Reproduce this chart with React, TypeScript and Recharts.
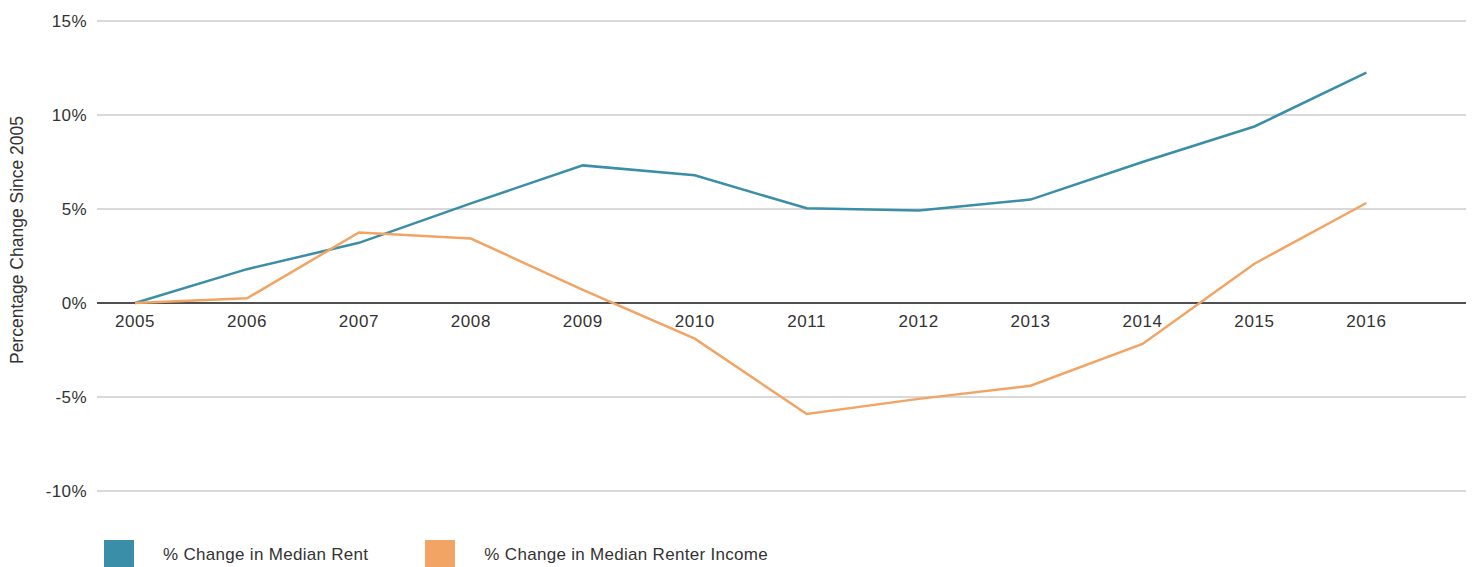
import React from "react";
import {
  LineChart,
  Line,
  XAxis,
  YAxis,
  CartesianGrid,
  ReferenceLine,
  Label,
} from "recharts";

const years = [2005, 2006, 2007, 2008, 2009, 2010, 2011, 2012, 2013, 2014, 2015, 2016];
const rentChange = [0, 1.8, 3.2, 5.3, 7.32, 6.79, 5.04, 4.92, 5.5, 7.5, 9.39, 12.25];
const incomeChange = [0, 0.25, 3.75, 3.43, 0.7, -1.9, -5.9, -5.1, -4.4, -2.18, 2.09, 5.32];
const yTicks = [-10, -5, 0, 5, 10, 15];
const seriesNames = ["% Change in Median Rent", "% Change in Median Renter Income"];
const seriesColors = ["#3a8ea7", "#f2a464"];
const yAxisTitle = "Percentage Change Since 2005";

const data = years.map((year, i) => ({
  year,
  rent: rentChange[i],
  income: incomeChange[i],
}));

const FONT = "'Liberation Sans', Arial, Helvetica, sans-serif";
const TEXT = "#333333";

const YTitle = (props: any) => {
  const vb = props.viewBox || { x: 0, y: 0, width: 0, height: 0 };
  const cx = vb.x + 17;
  const cy = vb.y + vb.height / 2 - 16;
  return (
    <text
      x={cx}
      y={cy}
      transform={`rotate(-90, ${cx}, ${cy})`}
      textAnchor="middle"
      dominantBaseline="central"
      fill={TEXT}
      fontSize={17.5}
      fontFamily={FONT}
    >
      {yAxisTitle}
    </text>
  );
};

const XTick = (props: any) => {
  const { x, y, payload } = props;
  return (
    <text
      x={x}
      y={y}
      dy={-164}
      textAnchor="middle"
      fill={TEXT}
      fontSize={17}
      fontFamily={FONT}
      letterSpacing={0.6}
    >
      {payload.value}
    </text>
  );
};

export default function App() {
  return (
    <div style={{ position: "absolute", left: 0, top: 0, width: 1473, height: 567, background: "#fff", fontFamily: FONT, overflow: "hidden" }}>
      <LineChart
        width={1473}
        height={567}
        data={data}
        margin={{ top: 21, right: 7, bottom: 46, left: 0 }}
      >
        <CartesianGrid vertical={false} stroke="#cccccc" strokeWidth={1.5} />
        <XAxis
          dataKey="year"
          type="number"
          domain={[2004.66, 2016.89]}
          ticks={years}
          allowDataOverflow
          axisLine={false}
          tickLine={false}
          tickSize={0}
          tickMargin={0}
          height={30}
          interval={0}
          tick={<XTick />}
        />
        <YAxis
          domain={[-10, 15]}
          ticks={yTicks}
          width={97}
          axisLine={false}
          tickLine={false}
          tickSize={0}
          tickMargin={10}
          tickFormatter={(v: number) => `${v}%`}
          tick={{ fill: TEXT, fontSize: 17, fontFamily: FONT, letterSpacing: 0.4 }}
        >
          <Label content={<YTitle />} />
        </YAxis>
        <ReferenceLine y={0} stroke="#222222" strokeWidth={1.5} />
        <Line
          type="linear"
          dataKey="rent"
          stroke={seriesColors[0]}
          strokeWidth={2.5}
          dot={false}
          isAnimationActive={false}
        />
        <Line
          type="linear"
          dataKey="income"
          stroke={seriesColors[1]}
          strokeWidth={2.5}
          dot={false}
          isAnimationActive={false}
        />
      </LineChart>
      <div style={{ position: "absolute", left: 104, top: 540, display: "flex", alignItems: "flex-start" }}>
        {seriesNames.map((name, i) => (
          <div key={name} style={{ display: "flex", alignItems: "flex-start", marginRight: i === 0 ? 57 : 0 }}>
            <div style={{ width: 30, height: 30, background: seriesColors[i] }} />
            <div style={{ marginLeft: 29, marginTop: 5, fontSize: 17, color: TEXT, letterSpacing: 0.3, lineHeight: "20px", whiteSpace: "nowrap" }}>
              {name}
            </div>
          </div>
        ))}
      </div>
    </div>
  );
}
